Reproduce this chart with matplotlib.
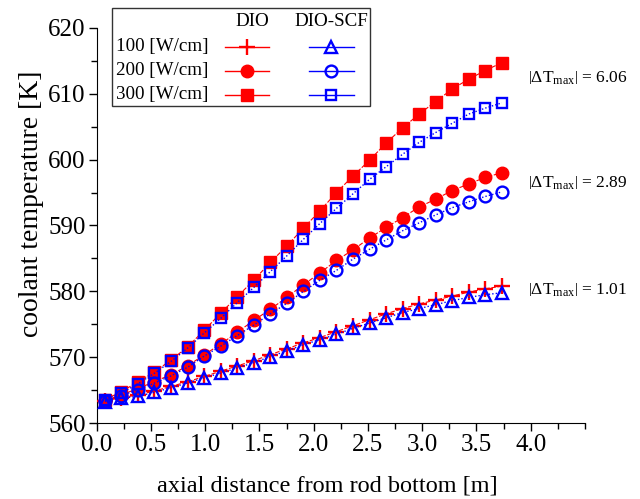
import matplotlib
matplotlib.use("Agg")
import matplotlib.pyplot as plt
from matplotlib.lines import Line2D
from matplotlib.patches import Rectangle
from matplotlib.ticker import MultipleLocator

plt.rcParams['font.family'] = ['Liberation Serif', 'DejaVu Serif']
plt.rcParams['mathtext.fontset'] = 'custom'
plt.rcParams['mathtext.rm'] = 'Liberation Serif'
plt.rcParams['mathtext.it'] = 'Liberation Serif:italic'
plt.rcParams['mathtext.bf'] = 'Liberation Serif:bold'

# axial positions [m]
x = [0.076, 0.229, 0.381, 0.533, 0.686, 0.838, 0.991, 1.143, 1.295, 1.448,
     1.600, 1.753, 1.905, 2.057, 2.210, 2.362, 2.515, 2.667, 2.819, 2.972,
     3.124, 3.277, 3.429, 3.581, 3.734]

dio_100 = [563.4, 563.9, 564.3, 564.9, 565.6, 566.3, 567.1, 567.9, 568.7, 569.5,
           570.4, 571.3, 572.2, 573.0, 573.9, 574.8, 575.7, 576.6, 577.4, 578.1,
           578.7, 579.3, 579.9, 580.4, 580.8]
scf_100 = [563.3, 563.8, 564.1, 564.7, 565.4, 566.1, 566.9, 567.6, 568.4, 569.2,
           570.1, 571.0, 571.9, 572.7, 573.5, 574.4, 575.2, 576.0, 576.8, 577.4,
           578.0, 578.6, 579.1, 579.5, 579.8]
dio_200 = [563.4, 564.3, 565.3, 566.3, 567.4, 568.7, 570.4, 572.0, 573.8, 575.6,
           577.3, 579.1, 581.0, 582.8, 584.7, 586.3, 588.1, 589.7, 591.2, 592.8,
           594.0, 595.3, 596.3, 597.3, 598.0]
scf_200 = [563.4, 564.2, 565.1, 566.1, 567.2, 568.5, 570.2, 571.7, 573.3, 574.9,
           576.6, 578.2, 580.0, 581.7, 583.2, 584.9, 586.4, 587.8, 589.2, 590.4,
           591.6, 592.7, 593.6, 594.4, 595.1]
dio_300 = [563.6, 564.8, 566.3, 567.8, 569.6, 571.6, 574.1, 576.7, 579.2, 581.7,
           584.4, 586.9, 589.6, 592.2, 595.0, 597.5, 599.9, 602.5, 604.8, 606.9,
           608.8, 610.7, 612.2, 613.5, 614.7]
scf_300 = [563.6, 564.6, 566.0, 567.6, 569.4, 571.4, 573.7, 575.9, 578.3, 580.6,
           583.0, 585.4, 587.9, 590.3, 592.6, 594.8, 597.0, 598.9, 600.8, 602.6,
           604.1, 605.5, 606.9, 607.8, 608.6]

row_labels = ['100 [W/cm]', '200 [W/cm]', '300 [W/cm]']
col_labels = ['DIO', 'DIO-SCF']
dT_labels = ['6.06', '2.89', '1.01']
dT_y = [612.4, 596.4, 580.1]

red = '#ff0000'
blue = '#0000ff'

red_styles = [dict(marker='+', ms=12, mew=1.7, mfc=red, mec=red),
              dict(marker='o', ms=9, mew=1.0, mfc=red, mec=red),
              dict(marker='s', ms=8.5, mew=1.0, mfc=red, mec=red)]
blue_styles = [dict(marker='^', ms=9, mew=1.7, mfc='none', mec=blue),
               dict(marker='o', ms=8.5, mew=1.7, mfc='none', mec=blue),
               dict(marker='s', ms=7.5, mew=1.7, mfc='none', mec=blue)]

fig = plt.figure(figsize=(6.4, 4.99), dpi=100)
ax = fig.add_axes([0.151, 0.1517, 0.763, 0.7928])

dio = [dio_100, dio_200, dio_300]
scf = [scf_100, scf_200, scf_300]
for k in range(3):
    ax.plot(x, dio[k], color=red, lw=0.8, ls=(0, (4, 1.5)), **red_styles[k], zorder=3)
    ax.plot(x, scf[k], color=blue, lw=1.0, ls=(0, (1, 1.5)), **blue_styles[k], zorder=4)

ax.set_xlim(0, 4.5)
ax.set_ylim(560, 620)
ax.xaxis.set_minor_locator(MultipleLocator(0.25))
ax.yaxis.set_major_locator(MultipleLocator(10))
ax.yaxis.set_minor_locator(MultipleLocator(5))
ax.set_xticks([0, 0.5, 1.0, 1.5, 2.0, 2.5, 3.0, 3.5, 4.0])
ax.set_xticklabels(['0.0', '0.5', '1.0', '1.5', '2.0', '2.5', '3.0', '3.5', '4.0'])
ax.spines['top'].set_visible(False)
ax.spines['right'].set_visible(False)
ax.tick_params(which='major', direction='out', length=6, width=1, labelsize=18, pad=2)
ax.tick_params(which='minor', direction='out', length=4, width=1)
ax.set_xlabel('axial distance from rod bottom [m]', fontsize=17.5)
ax.xaxis.set_label_coords(0.472, -0.132)
ax.set_ylabel('coolant temperature [K]', fontsize=20)
ax.yaxis.set_label_coords(-0.108, 0.555)

for lab, yy in zip(dT_labels, dT_y):
    ax.text(3.975, yy, r'$\left|\Delta\mathrm{T}_{\mathrm{max}}\right|$' + ' = ' + lab,
            fontsize=12.5, va='center', ha='left')

# manual legend in figure pixel coordinates
W, H = 640.0, 499.0
def fx(px):
    return px / W
def fy(py):
    return 1 - py / H

fig.patches.append(Rectangle((fx(111.7), fy(106)), fx(370) - fx(111.7), fy(8) - fy(106),
                             transform=fig.transFigure, fill=True, facecolor='white',
                             edgecolor='#333333', lw=1.0, zorder=5))
fig.text(fx(252), fy(22), col_labels[0], fontsize=13.7, ha='center', va='center', zorder=6)
fig.text(fx(331), fy(22), col_labels[1], fontsize=13.7, ha='center', va='center', zorder=6)
rows_y = [47, 71, 95]
for k in range(3):
    fig.text(fx(116), fy(rows_y[k]), row_labels[k], fontsize=13.7, ha='left', va='center', zorder=6)
    fig.add_artist(Line2D([fx(225), fx(269)], [fy(rows_y[k])] * 2, color=red, lw=1.0,
                          transform=fig.transFigure, zorder=6))
    fig.add_artist(Line2D([fx(247)], [fy(rows_y[k])], color=red, lw=0, ls='none',
                          transform=fig.transFigure, zorder=7, **red_styles[k]))
    fig.add_artist(Line2D([fx(309), fx(354)], [fy(rows_y[k])] * 2, color=blue, lw=1.0,
                          transform=fig.transFigure, zorder=6))
    fig.add_artist(Line2D([fx(331)], [fy(rows_y[k])], color=blue, lw=0, ls='none',
                          transform=fig.transFigure, zorder=7, **blue_styles[k]))

fig.savefig('out.png', dpi=100)
